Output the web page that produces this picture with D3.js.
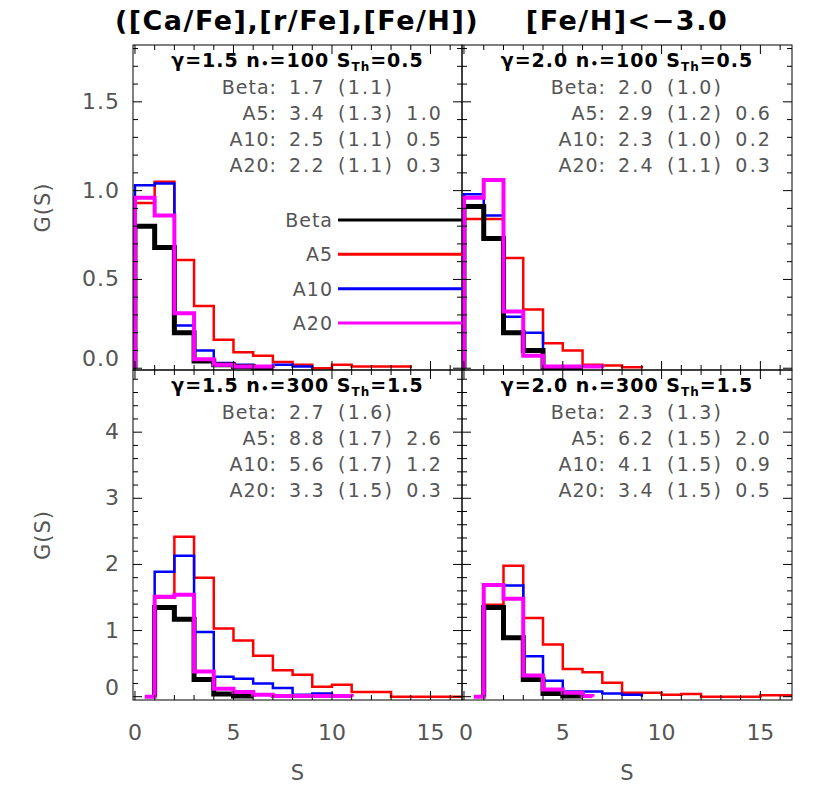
<!DOCTYPE html>
<html><head><meta charset="utf-8">
<script src="https://cdn.jsdelivr.net/npm/d3@7"></script>
<style>body{margin:0;background:#fff}text{font-family:"DejaVu Sans",sans-serif}</style>
</head><body><svg id="c" width="830" height="785"></svg>
<script>
// histogram values per unit bin, [start, end, value]
const seriesNames = ["A5", "A10", "Beta", "A20"];
const colors = {Beta: "#000", A5: "#ff0000", A10: "#0000ff", A20: "#ff00ff"};
const widths = {Beta: 5, A5: 2.5, A10: 2.5, A20: 4};

const topLeft = {
  Beta: [[0,1,0.80],[1,2,0.68],[2,3,0.20],[3,4,0.04],[4,5,0.02],[5,6,0.01],[6,7,0]],
  A5: [[0,1,0.93],[1,2,1.05],[2,3,0.61],[3,4,0.35],[4,5,0.16],[5,6,0.09],[6,7,0.07],[7,8,0.035],[8,9,0.02],[9,10,0],[10,11,0.02],[11,14,0.01]],
  A10: [[0,1,1.03],[1,2,1.04],[2,3,0.24],[3,4,0.10],[4,5,0.03],[5,6,0.02],[6,7,0.01],[7,8,0.02],[8,9,0.01]],
  A20: [[0,1,0.96],[1,2,0.86],[2,3,0.31],[3,4,0.05],[4,5,0.02],[5,6,0.01],[6,7,0.01]]
};
const topRight = {
  Beta: [[0,1,0.91],[1,2,0.73],[2,3,0.20],[3,4,0.10],[4,6,0.0]],
  A5: [[0,1,0.84],[1,2,0.84],[2,3,0.62],[3,4,0.33],[4,5,0.14],[5,6,0.10],[6,7,0.02],[7,8,0.015],[8,9,0.005]],
  A10: [[0,1,0.98],[1,2,0.86],[2,3,0.29],[3,4,0.20],[4,5,0.0]],
  A20: [[0,1,0.96],[1,2,1.06],[2,3,0.32],[3,4,0.07],[4,5,0.01],[5,6,0.01],[6,7,0.01]]
};
const botLeft = {
  Beta: [[1,2,1.35],[2,3,1.17],[3,4,0.26],[4,5,0.04],[5,6,0.01]],
  A5: [[1,2,1.50],[2,3,2.42],[3,4,1.80],[4,5,1.03],[5,6,0.85],[6,7,0.62],[7,8,0.40],[8,9,0.33],[9,10,0.15],[10,11,0.18],[11,13,0.07],[13,16.6,0.0]],
  A10: [[1,2,1.89],[2,3,2.13],[3,4,0.98],[4,5,0.30],[5,6,0.27],[6,7,0.20],[7,8,0.13],[8,9,0.03],[9,10,0.05]],
  A20: [[0.5,1,0],[1,2,1.51],[2,3,1.54],[3,4,0.38],[4,5,0.12],[5,6,0.07],[6,7,0.03],[7,11,0.01]]
};
const botRight = {
  Beta: [[1,2,1.35],[2,3,0.89],[3,4,0.26],[4,5,0.05],[5,6,0.01]],
  A5: [[1,2,1.39],[2,3,1.98],[3,4,1.19],[4,5,0.79],[5,6,0.42],[6,7,0.37],[7,8,0.21],[8,10,0.06],[10,11,0.03],[11,12,0.04],[12,15,0.0],[15,16.6,0.02]],
  A10: [[1,2,1.70],[2,3,1.68],[3,4,0.61],[4,5,0.24],[5,6,0.08],[6,7,0.08],[7,8,0.05],[8,9,0.03]],
  A20: [[0.5,1,0],[1,2,1.69],[2,3,1.48],[3,4,0.32],[4,5,0.11],[5,6,0.06],[6,6.5,0.01]]
};
const headers = ["γ=1.5 n•=100 S_Th=0.5", "γ=2.0 n•=100 S_Th=0.5", "γ=1.5 n•=300 S_Th=1.5", "γ=2.0 n•=300 S_Th=1.5"];
const statsTL = [["Beta:", "1.7 (1.1)"], ["A5:", "3.4 (1.3) 1.0"], ["A10:", "2.5 (1.1) 0.5"], ["A20:", "2.2 (1.1) 0.3"]];
const statsTR = [["Beta:", "2.0 (1.0)"], ["A5:", "2.9 (1.2) 0.6"], ["A10:", "2.3 (1.0) 0.2"], ["A20:", "2.4 (1.1) 0.3"]];
const statsBL = [["Beta:", "2.7 (1.6)"], ["A5:", "8.8 (1.7) 2.6"], ["A10:", "5.6 (1.7) 1.2"], ["A20:", "3.3 (1.5) 0.3"]];
const statsBR = [["Beta:", "2.3 (1.3)"], ["A5:", "6.2 (1.5) 2.0"], ["A10:", "4.1 (1.5) 0.9"], ["A20:", "3.4 (1.5) 0.5"]];
const xTicks = [0, 5, 10, 15];
const yTicksTop = [0, 0.5, 1.0, 1.5];
const yTicksBot = [0, 1, 2, 3, 4];

const svg = d3.select("#c");
const cols = [133, 462, 792];
const rows = [45, 370, 700];

const panels = [
  {data: topLeft, stats: statsTL, head: headers[0], c: 0, r: 0, dom: [-0.01, 1.82], ticks: yTicksTop, minor: 0.1, fmt: d3.format(".1f")},
  {data: topRight, stats: statsTR, head: headers[1], c: 1, r: 0, dom: [-0.01, 1.82], ticks: yTicksTop, minor: 0.1, fmt: d3.format(".1f")},
  {data: botLeft, stats: statsBL, head: headers[2], c: 0, r: 1, dom: [-0.05, 4.94], ticks: yTicksBot, minor: 0.2, fmt: d3.format("d")},
  {data: botRight, stats: statsBR, head: headers[3], c: 1, r: 1, dom: [-0.05, 4.94], ticks: yTicksBot, minor: 0.2, fmt: d3.format("d")}
];

svg.append("defs").selectAll("clipPath").data(panels).join("clipPath")
  .attr("id", (d, i) => "clip" + i)
  .append("rect")
  .attr("x", d => cols[d.c]).attr("y", d => rows[d.r])
  .attr("width", d => cols[d.c + 1] - cols[d.c]).attr("height", d => rows[d.r + 1] - rows[d.r]);

panels.forEach((p, i) => {
  const x0 = cols[p.c], x1 = cols[p.c + 1], y0 = rows[p.r], y1 = rows[p.r + 1];
  const x = d3.scaleLinear().domain([-0.1, 16.6]).range([x0, x1]);
  const y = d3.scaleLinear().domain(p.dom).range([y1, y0]);
  const g = svg.append("g");

  // histograms
  const hg = g.append("g").attr("clip-path", `url(#clip${i})`);
  seriesNames.forEach(name => {
    const bins = p.data[name];
    const pts = [[bins[0][0], 0]];
    bins.forEach(b => { pts.push([b[0], b[2]]); pts.push([b[1], b[2]]); });
    pts.push([bins[bins.length - 1][1], 0]);
    hg.append("path")
      .attr("d", d3.line().x(d => x(d[0])).y(d => y(d[1]))(pts))
      .attr("fill", "none").attr("stroke", colors[name])
      .attr("stroke-width", widths[name]).attr("stroke-linejoin", "miter");
  });

  // frame and ticks
  g.append("rect").attr("x", x0).attr("y", y0).attr("width", x1 - x0).attr("height", y1 - y0)
    .attr("fill", "none").attr("stroke", "#000").attr("stroke-width", 1);
  d3.range(0, 17, 1).forEach(v => {
    const L = v % 5 === 0 ? 9 : 5;
    [[y1, -L], [y0, L]].forEach(([yy, dl]) =>
      g.append("line").attr("x1", x(v)).attr("x2", x(v)).attr("y1", yy).attr("y2", yy + dl).attr("stroke", "#000"));
  });
  d3.range(0, p.dom[1], p.minor).forEach(v => {
    const isMajor = p.ticks.some(t => Math.abs(t - v) < 1e-6);
    const L = isMajor ? 9 : 5;
    [[x0, L], [x1, -L]].forEach(([xx, dl]) =>
      g.append("line").attr("x1", xx).attr("x2", xx + dl).attr("y1", y(v)).attr("y2", y(v)).attr("stroke", "#000"));
  });

  if (p.c === 0) {
    p.ticks.forEach(t => g.append("text").attr("x", 120).attr("y", y(t) + (t === 0 ? -2 : 7))
      .attr("text-anchor", "end").attr("font-size", 22).attr("letter-spacing", 1).attr("fill", "#555").text(p.fmt(t)));
    g.append("text").attr("transform", `translate(50,${(y0 + y1) / 2}) rotate(-90)`)
      .attr("text-anchor", "middle").attr("font-size", 21).attr("letter-spacing", 1).attr("fill", "#555").text("G(S)");
  }
  if (p.r === 1) {
    xTicks.forEach(t => g.append("text").attr("x", x(t) + (t === 0 && p.c === 1 ? 2 : 0)).attr("y", 740)
      .attr("text-anchor", "middle").attr("font-size", 22).attr("fill", "#555").text(t));
    g.append("text").attr("x", (x0 + x1) / 2).attr("y", 780).attr("text-anchor", "middle")
      .attr("font-size", 21).attr("fill", "#555").text("S");
  }

  // header
  const parts = p.head.split(" ");
  const ht = g.append("text").attr("x", (x0 + x1) / 2).attr("y", y0 + 22).attr("text-anchor", "middle")
    .attr("font-size", 19).attr("font-weight", "bold").attr("letter-spacing", 1);
  ht.append("tspan").text(parts[0] + " n");
  ht.append("tspan").attr("font-size", 12).attr("dy", 1).text("•");
  ht.append("tspan").attr("dy", -1).text(parts[1].slice(2) + " S");
  ht.append("tspan").attr("font-size", 12).attr("dy", 4).text("Th");
  ht.append("tspan").attr("dy", -4).text(parts[2].slice(4));

  // stats
  p.stats.forEach((s, k) => {
    const yy = y0 + 49 + k * 26;
    const cx = x0 + 144;
    g.append("text").attr("x", cx).attr("y", yy).attr("text-anchor", "end")
      .attr("font-size", 19).attr("letter-spacing", 1).attr("fill", "#555").text(s[0]);
    g.append("text").attr("x", cx + 12).attr("y", yy)
      .attr("font-size", 19).attr("letter-spacing", 2.2).attr("word-spacing", 4).attr("fill", "#555").text(s[1]);
  });
});

// legend
const legendNames = ["Beta", "A5", "A10", "A20"];
const ly = d3.scalePoint().domain(legendNames).range([220, 323]);
legendNames.forEach(n => {
  svg.append("text").attr("x", 333).attr("y", ly(n) + 7).attr("text-anchor", "end")
    .attr("font-size", 19).attr("letter-spacing", 1).attr("fill", "#555").text(n);
  svg.append("line").attr("x1", 338).attr("x2", 462).attr("y1", ly(n)).attr("y2", ly(n))
    .attr("stroke", colors[n]).attr("stroke-width", 3);
});

// titles
svg.append("text").attr("x", 297).attr("y", 30).attr("text-anchor", "middle")
  .attr("font-size", 27).attr("font-weight", "bold").attr("letter-spacing", 1.5).text("([Ca/Fe],[r/Fe],[Fe/H])");
svg.append("text").attr("x", 627).attr("y", 30).attr("text-anchor", "middle")
  .attr("font-size", 27).attr("font-weight", "bold").attr("letter-spacing", 1.5).text("[Fe/H]<−3.0");
</script></body></html>
